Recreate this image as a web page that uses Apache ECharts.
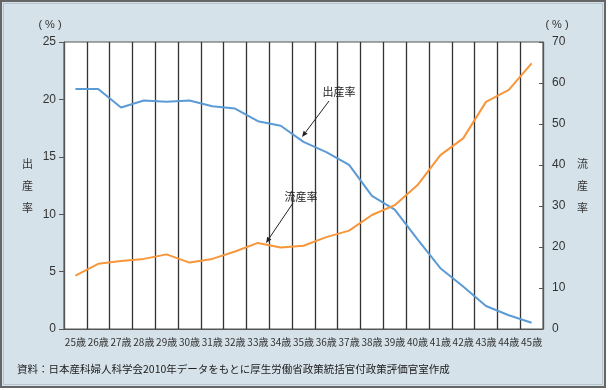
<!DOCTYPE html>
<html><head><meta charset="utf-8">
<script src="https://cdn.jsdelivr.net/npm/echarts@6/dist/echarts.min.js"></script>
<style>html,body{margin:0;padding:0;background:#fff}#c{width:610px;height:390px}</style>
</head><body><div id="c"></div>
<script>
const categories = ['25歳','26歳','27歳','28歳','29歳','30歳','31歳','32歳','33歳','34歳','35歳','36歳','37歳','38歳','39歳','40歳','41歳','42歳','43歳','44歳','45歳'];
const birthRate = [20.9, 20.9, 19.3, 19.9, 19.8, 19.9, 19.4, 19.2, 18.1, 17.7, 16.3, 15.4, 14.3, 11.6, 10.4, 7.8, 5.3, 3.7, 2.0, 1.2, 0.55];
const miscarriageRate = [13.0, 15.9, 16.6, 17.1, 18.2, 16.2, 17.1, 18.9, 21.0, 19.9, 20.3, 22.4, 24.0, 27.8, 30.2, 35.1, 42.4, 46.5, 55.4, 58.3, 64.8];
const leftTicks = {min: 0, max: 25, interval: 5};
const rightTicks = {min: 0, max: 70, interval: 10};
const footnote = '資料：日本産科婦人科学会2010年データをもとに厚生労働省政策統括官付政策評価官室作成';

const BG = '#d6e2ea';
const FONT = '"Liberation Sans", "Noto Sans CJK JP", sans-serif';
const JFONT = '"Noto Sans CJK JP", "Liberation Sans", sans-serif';
const BLUE = '#5b9bd5';
const ORANGE = '#f7963a';

function arrow(x1, y1, x2, y2) {
  const a = Math.atan2(y2 - y1, x2 - x1);
  const L = 6, W = 2.5;
  const bx = x2 - L * Math.cos(a), by = y2 - L * Math.sin(a);
  const px = -Math.sin(a) * W, py = Math.cos(a) * W;
  return [
    {type: 'line', shape: {x1, y1, x2: bx, y2: by}, style: {stroke: '#222', lineWidth: 1}, z: 100},
    {type: 'polygon', shape: {points: [[x2, y2], [bx + px, by + py], [bx - px, by - py]]}, style: {fill: '#222'}, z: 100}
  ];
}

const chart = echarts.init(document.getElementById('c'), null, {renderer: 'canvas'});
chart.setOption({
  backgroundColor: BG,
  animation: false,
  grid: {left: 64, top: 42, width: 479, height: 287, show: true, backgroundColor: '#fff', borderColor: '#555', borderWidth: 1},
  xAxis: {
    type: 'category', data: categories, boundaryGap: true,
    axisLine: {show: true, lineStyle: {color: '#555'}},
    axisTick: {show: false},
    axisLabel: {interval: 0, fontSize: 10, color: '#333', fontFamily: JFONT, margin: 8},
    splitLine: {show: true, interval: 0, lineStyle: {color: '#333', width: 1.3}}
  },
  yAxis: [
    {
      type: 'value', min: leftTicks.min, max: leftTicks.max, interval: leftTicks.interval, position: 'left',
      name: '出\n産\n率', nameLocation: 'middle', nameRotate: 0, nameGap: 31,
      nameTextStyle: {fontSize: 11, color: '#333', fontFamily: JFONT, lineHeight: 22},
      axisLine: {show: true, lineStyle: {color: '#555'}},
      axisTick: {show: true, inside: false, length: 5, lineStyle: {color: '#555'}},
      axisLabel: {fontSize: 12, color: '#333', fontFamily: FONT, margin: 8},
      splitLine: {show: false}
    },
    {
      type: 'value', min: rightTicks.min, max: rightTicks.max, interval: rightTicks.interval, position: 'right',
      name: '流\n産\n率', nameLocation: 'middle', nameRotate: 0, nameGap: 34,
      nameTextStyle: {fontSize: 11, color: '#333', fontFamily: JFONT, lineHeight: 22},
      axisLine: {show: true, lineStyle: {color: '#555'}},
      axisTick: {show: true, inside: true, length: 4, lineStyle: {color: '#555'}},
      axisLabel: {fontSize: 12, color: '#333', fontFamily: FONT, margin: 9},
      splitLine: {show: false}
    }
  ],
  series: [
    {type: 'line', name: '出産率', data: birthRate, yAxisIndex: 0, symbol: 'none', lineStyle: {color: BLUE, width: 2}, z: 5},
    {type: 'line', name: '流産率', data: miscarriageRate, yAxisIndex: 1, symbol: 'none', lineStyle: {color: ORANGE, width: 2}, z: 5}
  ],
  graphic: [
    {type: 'rect', shape: {x: 606, y: 0, width: 4, height: 390}, style: {fill: '#fff'}, z: 50},
    {type: 'rect', shape: {x: 0, y: 388, width: 610, height: 2}, style: {fill: '#fff'}, z: 50},
    {type: 'rect', shape: {x: 1, y: 1, width: 604, height: 386}, style: {fill: null, stroke: '#666', lineWidth: 2}, z: 51},
    {type: 'rect', shape: {x: 3.5, y: 3.5, width: 599, height: 381}, style: {fill: null, stroke: '#b8c4cc', lineWidth: 1}, z: 51},
    {type: 'text', x: 50, y: 25, style: {text: '( % )', fontSize: 11, fill: '#333', font: '11px ' + FONT, textAlign: 'center', textVerticalAlign: 'middle'}, z: 60},
    {type: 'text', x: 557, y: 25, style: {text: '( % )', fontSize: 11, fill: '#333', font: '11px ' + FONT, textAlign: 'center', textVerticalAlign: 'middle'}, z: 60},
    {type: 'text', x: 339, y: 92, style: {text: '出産率', font: '11px ' + JFONT, fill: '#222', textAlign: 'center', textVerticalAlign: 'middle'}, z: 100},
    {type: 'text', x: 301, y: 197, style: {text: '流産率', font: '11px ' + JFONT, fill: '#222', textAlign: 'center', textVerticalAlign: 'middle'}, z: 100},
    ...arrow(329, 101, 302, 137),
    ...arrow(293, 203, 266, 243),
    {type: 'text', x: 17, y: 369, style: {text: footnote, font: '10.5px ' + JFONT, fill: '#222', textAlign: 'left', textVerticalAlign: 'middle'}, z: 60}
  ]
});
</script></body></html>
